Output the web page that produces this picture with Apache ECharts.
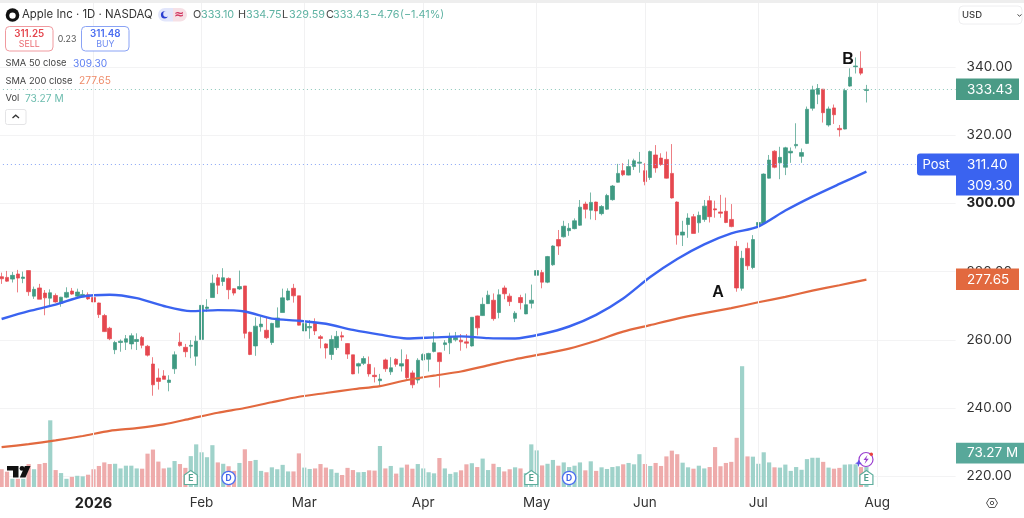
<!DOCTYPE html>
<html><head><meta charset="utf-8">
<style>html,body{margin:0;padding:0;background:#fff}#c{width:1024px;height:518px}</style>
<script src="https://cdn.jsdelivr.net/npm/echarts@6/dist/echarts.min.js"></script>
</head><body><div id="c"></div>
<script>
const opens=[278.5,278.3,277.8,279.3,278.0,280.3,272.8,275.2,273.7,272.2,
273.0,270.7,272.5,274.3,272.8,272.6,273.2,272.4,270.8,267.1,
263.4,257.1,259.2,259.3,258.8,259.5,260.7,258.1,252.9,248.8,
249.4,247.5,251.5,259.3,257.8,258.1,255.2,260.1,269.2,272.4,
278.2,277.1,278.0,275.0,274.9,275.8,262.2,258.2,263.8,262.8,
259.2,263.7,268.0,271.7,275.1,272.9,262.6,263.5,264.8,260.9,
258.8,255.7,257.7,261.2,258.9,255.6,252.3,253.1,252.8,249.6,
248.0,254.1,250.6,254.3,252.3,254.2,250.3,248.2,254.1,254.3,
256.6,256.2,258.6,259.1,260.0,259.9,259.4,258.2,267.0,267.1,
270.6,271.6,268.0,275.2,272.8,266.3,272.4,267.6,270.7,278.9,
279.7,276.9,282.0,289.4,290.2,292.0,292.6,293.6,299.8,298.0,
300.4,297.0,298.3,301.1,306.2,309.6,308.3,310.8,311.8,309.6,
307.6,314.2,313.3,312.9,308.8,300.4,290.7,293.8,296.1,294.3,
295.3,300.8,298.4,297.5,297.7,295.3,287.4,275.1,286.8,281.2,
293.5,294.1,307.4,315.3,311.9,310.6,314.8,316.9,313.8,317.6,
327.9,332.0,333.5,323.0,328.0,322.0,321.8,334.4,340.1,339.6,
333.10];
const closes=[277.9,277.2,278.9,278.1,278.4,274.1,274.8,271.9,272.3,273.8,
271.1,272.5,273.9,273.4,274.0,273.3,272.0,271.1,267.4,262.4,
260.3,259.2,259.6,260.3,261.2,260.1,258.4,255.5,246.8,247.8,
248.4,248.2,255.6,258.3,256.5,258.4,259.6,270.1,269.6,276.6,
276.0,278.2,274.7,273.7,275.6,261.9,255.7,264.0,264.6,260.6,
264.8,266.4,272.3,274.3,272.9,264.3,264.8,263.9,262.6,260.4,
257.6,260.1,261.0,260.8,255.8,250.0,253.0,254.5,250.0,249.2,
248.5,251.5,251.8,252.8,253.0,248.9,246.8,254.0,255.7,256.0,
259.1,253.6,259.1,261.0,260.7,259.4,259.0,266.6,263.5,270.4,
273.1,266.2,273.2,273.5,271.2,267.8,270.9,270.3,271.6,280.3,
276.9,284.4,287.5,287.5,293.3,292.7,294.9,298.9,298.3,300.3,
297.8,299.1,302.3,305.1,308.8,308.4,310.8,312.5,312.1,306.4,
315.2,310.4,311.4,307.4,301.6,290.7,291.6,295.7,291.2,296.5,
299.2,296.1,298.1,297.1,294.4,293.2,275.2,283.9,281.7,289.4,
294.4,308.6,312.7,310.6,313.5,316.3,315.3,317.3,314.9,327.6,
333.3,333.7,326.6,327.7,326.0,321.6,333.1,337.0,340.3,338.2,
333.43];
const lows=[276.4,277.0,276.8,273.9,276.6,272.9,272.0,271.9,267.2,270.0,
270.9,269.7,272.2,273.2,272.5,272.6,271.7,269.2,266.4,262.3,
259.9,255.8,256.5,257.0,257.2,257.0,257.5,255.1,243.6,245.4,
248.4,244.9,250.0,258.0,254.9,254.6,252.4,259.5,268.2,272.4,
273.4,275.8,271.9,273.0,274.6,260.4,255.5,255.3,262.4,260.2,
258.5,263.6,268.0,271.5,270.9,264.2,260.3,260.3,261.4,257.5,
254.5,254.1,257.0,259.7,254.4,249.9,250.1,252.6,249.2,247.5,
246.3,250.6,249.7,252.1,250.7,248.4,245.8,247.2,253.9,250.7,
256.3,246.0,256.8,255.8,259.5,256.8,257.5,258.0,261.3,267.0,
270.5,265.6,266.3,271.9,269.9,265.2,268.9,267.5,269.2,278.7,
275.1,276.6,281.7,284.9,290.0,290.5,292.4,293.4,295.6,295.3,
295.1,296.5,298.1,300.8,306.1,308.0,308.2,309.8,309.0,305.3,
306.9,309.0,311.0,307.3,301.4,287.9,287.5,289.9,291.2,291.4,
294.6,294.4,295.8,295.8,294.2,293.0,274.1,274.4,280.5,280.7,
289.3,294.1,307.3,310.3,307.1,308.3,311.9,316.1,311.9,317.4,
327.2,329.1,323.7,322.5,323.3,319.6,321.7,334.2,338.1,337.6,
329.59];
const highs=[279.7,280.2,279.9,280.5,280.0,280.3,275.6,276.4,274.6,274.8,
273.6,272.6,275.4,275.2,275.0,274.6,273.9,278.0,270.9,267.6,
263.8,259.7,260.1,261.4,261.9,261.9,261.1,258.5,254.9,251.6,
251.1,249.6,256.6,262.1,258.8,259.9,261.2,270.5,271.9,279.1,
279.3,281.0,278.3,275.1,280.3,275.8,262.4,266.6,266.8,266.8,
265.0,269.5,275.0,275.1,276.4,272.9,266.8,265.8,266.3,261.4,
259.0,261.3,262.6,262.4,259.0,255.6,253.3,255.2,255.1,251.9,
250.0,254.5,254.9,254.6,257.2,255.7,251.0,254.6,256.0,256.2,
262.3,256.3,259.9,262.1,262.3,261.7,261.7,266.6,267.1,272.4,
274.4,273.6,274.8,275.9,273.6,268.4,273.2,273.6,276.2,287.3,
280.5,284.6,287.7,292.2,294.9,294.2,295.6,301.0,300.5,303.2,
300.5,299.5,302.8,305.4,311.6,311.8,312.9,313.1,315.1,311.8,
315.5,317.1,314.7,315.2,317.4,300.6,294.9,297.1,296.9,297.6,
301.0,302.2,300.8,302.5,301.7,299.8,289.0,286.1,288.5,290.7,
296.6,308.8,314.2,315.6,316.6,316.6,316.4,323.5,316.1,328.4,
334.5,335.0,333.5,328.4,329.0,323.0,333.7,339.6,342.8,344.6,
334.75];
const volumes=[65,56,30,30,30,84,65,84,88,244,62,51,30,37,41,39,45,65,77,90,
84,85,68,78,78,68,67,122,137,93,68,71,95,84,70,113,156,127,109,153,
90,85,76,59,88,138,95,99,59,54,72,65,81,57,57,123,71,66,68,84,
71,65,52,44,70,62,54,55,61,60,150,68,77,49,71,82,67,84,68,54,
50,106,68,48,54,61,83,87,73,104,62,85,73,57,65,72,68,51,156,134,
79,85,99,78,90,73,78,90,61,94,59,72,66,73,76,83,88,83,120,84,
77,88,77,112,133,120,89,72,67,78,68,73,146,76,88,92,180,442,112,111,
85,127,90,72,71,82,59,73,63,102,107,107,92,71,67,70,82,83,83,73,73.27];
const smaDays=[0,5,10,15,20,25,30,35,40,45,50,55,60,65,70,75,80,85,90,95,100,105,110,115,120,125,130,135,140,145,150,155,160];
const sma50=[266.1,268.4,270.3,272.7,273.2,272.2,269.9,268.4,268.7,268.3,266.2,265.6,264.7,262.9,261.5,260.4,260.7,261.0,260.5,260.4,261.7,263.9,267.3,272.1,278.4,283.7,288.0,291.2,293.2,297.9,302.0,305.7,309.30];
const sma200=[228.5,229.4,230.5,231.8,233.3,234.1,235.2,236.9,238.6,240.0,241.7,243.3,244.4,245.5,246.4,248.2,249.5,250.7,252.5,254.3,255.8,257.4,259.7,262.4,264.3,266.2,267.8,269.3,271.0,272.6,274.4,276.0,277.65];
const monthDays=[17,37,56,78,99,119,140,162];
const monthNames=['2026','Feb','Mar','Apr','May','Jun','Jul','Aug'];
const priceTicks=[220,240,260,280,300,320,340];
const lastPrice=333.43, postPrice=311.40, sma50Last=309.30, sma200Last=277.65;
const earningsDays=[35,98,160], dividendDays=[42,105];
const slots=177;

const UP='#3f9a82',DOWN='#e5474f',BLUE='#3a63f0',ORANGE='#e2693f',TEAL='#5fb3a3';
const FONT='Inter, "Noto Sans", sans-serif';
const cats=Array.from({length:slots},(_,i)=>{const k=monthDays.indexOf(i);return k>=0?monthNames[k]:String(i)});
const isMonth=i=>monthDays.includes(i);
const chart=echarts.init(document.getElementById('c'),null,{renderer:'canvas'});

function T(x,y,text,fill,size,opt){opt=opt||{};return{type:'text',z:opt.z||50,silent:true,style:{x,y,text,fill,font:(opt.w||'400')+' '+size+'px '+(opt.f||FONT),textAlign:opt.a||'left',textVerticalAlign:'middle',textBaseline:'middle'}}}
function R(x,y,w,h,fill,stroke,r,z){return{type:'rect',z:z||40,silent:true,shape:{x,y,width:w,height:h,r:r||0},style:{fill:fill||'transparent',stroke:stroke||null,lineWidth:stroke?1:0}}}

chart.setOption({
 animation:false,
 backgroundColor:'#fff',
 grid:[
  {left:-1.1,top:-1.2,width:956.7,height:545.6,containLabel:false,outerBoundsMode:'none'},
  {left:-1.1,top:3,width:956.7,height:484,containLabel:false,outerBoundsMode:'none'}
 ],
 xAxis:[
  {type:'category',gridIndex:0,data:cats,boundaryGap:true,show:false},
  {type:'category',gridIndex:1,data:cats,boundaryGap:true,
   axisLine:{show:false},axisTick:{show:false},
   axisLabel:{interval:(i)=>isMonth(i),margin:9,color:'#333',fontFamily:FONT,fontSize:13.5,hideOverlap:false,
     formatter:(v)=>v==='2026'?'{b|2026}':v,rich:{b:{fontWeight:700,fontSize:14.5,fontFamily:FONT,color:'#222'}}},
   splitLine:{show:false}}
 ],
 yAxis:[
  {type:'value',gridIndex:0,position:'right',min:200,max:360,interval:20,
   axisLine:{show:false},axisTick:{show:false},
   splitLine:{show:true,lineStyle:{color:'#f3f3f4',width:1}},
   axisLabel:{margin:11,color:'#333',fontFamily:FONT,fontSize:13.5,align:'left',
     formatter:(v)=>!priceTicks.includes(v)?'':(v===300?'{b|300.00}':v.toFixed(2)),
     rich:{b:{fontWeight:700,fontSize:13.5,fontFamily:FONT,color:'#222'}}}},
  {type:'value',gridIndex:1,min:0,max:1771,show:false,splitLine:{show:false}}
 ],
 series:[
  {type:'line',name:'months',xAxisIndex:1,yAxisIndex:1,z:0,silent:true,showSymbol:false,data:[],
   markLine:{silent:true,symbol:'none',label:{show:false},animation:false,
    lineStyle:{color:'#f1f1f2',type:'solid',width:1},
    data:monthDays.map(d=>({xAxis:cats[d]}))}},
  {type:'bar',name:'Vol',xAxisIndex:1,yAxisIndex:1,barWidth:4.2,z:1,silent:true,
   data:volumes.map((v,i)=>({value:v,itemStyle:{color:closes[i]<opens[i]?'#eeabab':'#9fd2ca'}}))},
  {type:'candlestick',name:'AAPL',xAxisIndex:0,yAxisIndex:0,barWidth:4,z:3,silent:true,
   data:opens.map((o,i)=>[o,closes[i],lows[i],highs[i]]),
   itemStyle:{color:UP,color0:DOWN,borderColor:UP,borderColor0:DOWN,borderWidth:0.7},
   markLine:{silent:true,symbol:'none',label:{show:false},animation:false,
    data:[{yAxis:lastPrice,lineStyle:{color:'#8cc7ba',type:[1,3],width:1}},
          {yAxis:postPrice,lineStyle:{color:'#8aa6f5',type:[1,3],width:1}}]}},
  {type:'line',name:'SMA 50',xAxisIndex:0,yAxisIndex:0,z:4,silent:true,showSymbol:false,smooth:0.25,
   data:smaDays.map((d,i)=>[d,sma50[i]]),lineStyle:{color:BLUE,width:2.4}},
  {type:'line',name:'SMA 200',xAxisIndex:0,yAxisIndex:0,z:4,silent:true,showSymbol:false,smooth:0.25,
   data:smaDays.map((d,i)=>[d,sma200[i]]),lineStyle:{color:ORANGE,width:2.2}}
 ]
});

const xOf=i=>chart.convertToPixel({xAxisIndex:1},i);
const yTagX=956,yTagW=63;
function Etag(i){const x=xOf(i),y=478;return [
 {type:'polygon',z:41,silent:true,shape:{points:[[x-6.5,y-3],[x,y-7.5],[x+6.5,y-3],[x+6.5,y+6.5],[x-6.5,y+6.5]]},style:{fill:'#fff',stroke:'#5fae9d',lineWidth:1.2}},
 T(x,y+0.5,'E','#4f9f8d',8.5,{a:'center',w:'700',z:42})]}
function Dtag(i){const x=xOf(i),y=478;return [
 {type:'circle',z:41,silent:true,shape:{cx:x,cy:y,r:6.7},style:{fill:'#fff',stroke:'#4c6ff0',lineWidth:1.3}},
 T(x,y+0.5,'D','#3f63e8',8.5,{a:'center',w:'700',z:42})]}

const els=[
 R(0,0,1024,3,'#eeeeee',null,0,39),
 // header
 {type:'circle',z:45,silent:true,shape:{cx:12.5,cy:15,r:6.8},style:{fill:'#111'}},
 {type:'circle',z:46,silent:true,shape:{cx:12.5,cy:15.6,r:3.2},style:{fill:'#fff'}},
 T(22,15,'Apple Inc · 1D · NASDAQ','#333',11.4),
 R(158,8,15,13.5,'#e2e6fb',null,[7,0,0,7]),
 R(173,8,14,13.5,'#f6e0e5',null,[0,7,7,0]),
 {type:'circle',z:45,silent:true,shape:{cx:164.5,cy:14.8,r:3.6},style:{fill:'#2a3ed0'}},
 {type:'circle',z:46,silent:true,shape:{cx:166.2,cy:13.9,r:3},style:{fill:'#e2e6fb'}},
 T(179,14.5,'≈','#d0355f',12,{a:'center',w:'700',f:'"DejaVu Sans"'}),
 T(193,15,'O','#444',10.8),T(201,15,'333.10',TEAL,10.8),
 T(238,15,'H','#444',10.8),T(246,15,'334.75',TEAL,10.8),
 T(282,15,'L','#444',10.8),T(289,15,'329.59',TEAL,10.8),
 T(326,15,'C','#444',10.8),T(333,15,'333.43',TEAL,10.8),
 T(370,15,'−4.76',TEAL,10.8),T(400,15,'(−1.41%)',TEAL,10.8),
 R(5.5,26.5,47.5,24.5,'#fff','#f09a9f',4),
 T(29.2,33.7,'311.25',DOWN,9.8,{a:'center',w:'600'}),T(29.2,44.3,'SELL','#ea6a70',8.8,{a:'center'}),
 T(67,39,'0.23','#555',8.8,{a:'center'}),
 R(81.5,26.5,47.5,24.5,'#fff','#8aa3f5',4),
 T(105.3,33.7,'311.48','#4a6df0',9.8,{a:'center',w:'600'}),T(105.3,44.3,'BUY','#6f8cf2',8.8,{a:'center'}),
 T(5.5,63.5,'SMA 50 close','#444',9.3),T(73,63.5,sma50Last.toFixed(2),'#5f80f2',10.2),
 T(5.5,81,'SMA 200 close','#444',9.3),T(79,81,sma200Last.toFixed(2),'#ee8a68',10.2),
 T(5.5,98.5,'Vol','#444',9.3),T(25,98.5,'73.27 M','#6cbcae',10.2),
 R(5.5,109.5,20.5,15,'#fff','#e4e4e6',2),
 {type:'polyline',z:45,silent:true,shape:{points:[[12.5,118],[15.7,115.2],[19,118]]},style:{stroke:'#333',fill:null,lineWidth:1.3}},
 // USD
 R(959,6,63,18,'#fff','#eeeef0',4),
 T(962,15,'USD','#444',9.5,{w:'500'}),
 {type:'polyline',z:45,silent:true,shape:{points:[[1017.5,14.5],[1019.5,16.2],[1021.5,14.5]]},style:{stroke:'#444',fill:null,lineWidth:1}},
 // annotations
 T(718,293,'A','#111',16,{a:'center',w:'700',f:'"Liberation Sans"'}),
 T(848,59.5,'B','#111',16,{a:'center',w:'700',f:'"Liberation Sans"'}),
 // price tags
 R(yTagX,78.5,yTagW,21.5,'#4a9b86'),T(yTagX+11,89.5,lastPrice.toFixed(2),'#fff',13.5),
 R(917,153.5,39,22,BLUE,null,[3,0,0,3]),T(922.5,164.7,'Post','#fff',13),
 R(yTagX,153.5,yTagW,42,BLUE),
 T(yTagX+11,164.7,postPrice.toFixed(2),'#fff',13.5),T(yTagX+11,185.7,sma50Last.toFixed(2),'#fff',13.5),
 R(yTagX,268.5,yTagW,21.5,'#e2693f'),T(yTagX+11,279.6,sma200Last.toFixed(2),'#fff',13.5),
 R(yTagX,442.7,68.3,20.7,'#58a89a'),T(yTagX+11,453.2,'73.27 M','#fff',13.5),
 // TV logo
 {type:'polygon',z:44,silent:true,shape:{points:[[7,466],[18.5,466],[18.5,477.5],[13,477.5],[13,470.5],[7,470.5]]},style:{fill:'#111'}},
 {type:'circle',z:44,silent:true,shape:{cx:22,cy:468.4,r:2.4},style:{fill:'#111'}},
 {type:'polygon',z:44,silent:true,shape:{points:[[24.8,466],[30.5,466],[25.5,477.5],[19.8,477.5]]},style:{fill:'#111'}},
 // lightning
 {type:'arc',z:44,silent:true,shape:{cx:866,cy:459.5,r:7,startAngle:0,endAngle:6.28},style:{stroke:'#9a3fd0',fill:null,lineWidth:1.2}},
 {type:'polygon',z:45,silent:true,shape:{points:[[867.5,455],[863.5,460],[866,460],[864.5,464],[868.8,458.8],[866.2,458.8]]},style:{fill:'#9a3fd0'}},
 {type:'circle',z:46,silent:true,shape:{cx:871.3,cy:454.3,r:1.7},style:{fill:'#e8423f'}},
 {type:'polygon',z:46,silent:true,shape:{points:[[858.5,459.5],[859.5,462.3],[862,463.2],[859.5,464.1],[858.5,467],[857.5,464.1],[855,463.2],[857.5,462.3]]},style:{fill:'#5b4fe8'}},
 // settings
 {type:'polygon',z:44,silent:true,shape:{points:[[986.5,503],[989.2,498.5],[994.8,498.5],[997.5,503],[994.8,507.5],[989.2,507.5]]},style:{fill:'none',stroke:'#555',lineWidth:1}},
 {type:'circle',z:44,silent:true,shape:{cx:992,cy:503,r:1.7},style:{fill:'none',stroke:'#555',lineWidth:1}}
];
earningsDays.forEach(d=>els.push(...Etag(d)));
dividendDays.forEach(d=>els.push(...Dtag(d)));
chart.setOption({graphic:{elements:els}});
</script></body></html>
